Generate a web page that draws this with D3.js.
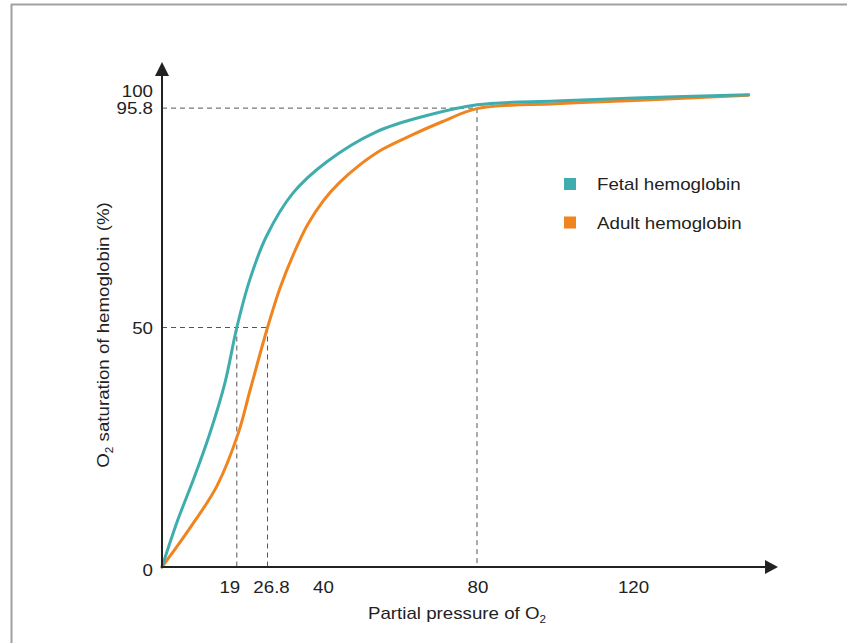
<!DOCTYPE html>
<html><head><meta charset="utf-8">
<script src="https://cdn.jsdelivr.net/npm/d3@7"></script>
<style>
html,body{margin:0;padding:0;background:#fff;}
svg{display:block;}
text{font-family:"Liberation Sans",Arial,Helvetica,sans-serif;fill:#222;}
</style></head>
<body>
<script>
// ---- data ----
const fetalP = [0, 4, 8, 12, 16, 19, 22.3, 26.5, 33.2, 41.7, 54.3, 67, 80, 100, 120, 149];
const fetalS = [0, 9.8, 18.3, 27.5, 38.5, 50, 60, 69, 78, 84.5, 90.8, 94.2, 96.5, 97.3, 97.9, 98.6];
const adultP = [0, 7, 14, 19.4, 22.4, 26.8, 30, 33.5, 37, 41, 45, 50, 56, 63, 71, 80, 100, 120, 149];
const adultS = [0, 8, 17, 28, 37, 50, 58.3, 65.5, 71.5, 76.5, 80.2, 83.8, 87.2, 90, 92.9, 95.7, 96.7, 97.4, 98.5];
const xTicks = [19, 26.8, 40, 80, 120];
const yTicks = [0, 50, 95.8, 100];
const seriesNames = ["Fetal hemoglobin", "Adult hemoglobin"];
const seriesColors = ["#3fadad", "#f0841f"];
const guides = [
  {x: 80, y: 95.8},
  {x: 26.8, y: 50},
  {x: 19, y: 50}
];

const W = 847, H = 643, SX = 1.17;
const svg = d3.select("body").append("svg").attr("width", W).attr("height", H);

function label(parent, px, py, anchor, size) {
  return parent.append("text")
    .attr("transform", `translate(${px},${py}) scale(${SX},1)`)
    .attr("text-anchor", anchor).attr("font-size", size);
}

// frame
svg.append("line").attr("x1", 11).attr("x2", W).attr("y1", 4.5).attr("y2", 4.5).attr("stroke", "#a0a0a0").attr("stroke-width", 2);
svg.append("line").attr("x1", 11.5).attr("x2", 11.5).attr("y1", 4).attr("y2", H).attr("stroke", "#a0a0a0").attr("stroke-width", 2);

const x = d3.scaleLinear().domain([0, 150]).range([162, 752.6]);
const y = d3.scaleLinear().domain([0, 100]).range([567, 88]);

// dashed guides
const g = svg.append("g").attr("stroke", "#555").attr("stroke-width", 1).attr("stroke-dasharray", "5,4").attr("fill", "none");
guides.forEach(d => {
  g.append("line").attr("x1", x(0)).attr("x2", x(d.x)).attr("y1", y(d.y)).attr("y2", y(d.y));
  g.append("line").attr("x1", x(d.x)).attr("x2", x(d.x)).attr("y1", y(d.y)).attr("y2", y(0));
});

// curves
const line = d3.line().x(d => x(d[0])).y(d => y(d[1])).curve(d3.curveCatmullRom.alpha(0.5));
const fetal = fetalP.map((p, i) => [p, fetalS[i]]);
const adult = adultP.map((p, i) => [p, adultS[i]]);
svg.append("path").datum(adult).attr("d", line).attr("fill", "none").attr("stroke", seriesColors[1]).attr("stroke-width", 3).attr("stroke-linecap", "round");
svg.append("path").datum(fetal).attr("d", line).attr("fill", "none").attr("stroke", seriesColors[0]).attr("stroke-width", 3).attr("stroke-linecap", "round");

// axes lines with arrows
const axCol = "#222";
svg.append("line").attr("x1", x(0)).attr("x2", 768).attr("y1", y(0)).attr("y2", y(0)).attr("stroke", axCol).attr("stroke-width", 2);
svg.append("path").attr("d", `M778,${y(0)} L765,${y(0) - 7} L765,${y(0) + 7} Z`).attr("fill", axCol);
svg.append("line").attr("x1", x(0)).attr("x2", x(0)).attr("y1", y(0) + 1).attr("y2", 72).attr("stroke", axCol).attr("stroke-width", 2);
svg.append("path").attr("d", `M${x(0)},62 L${x(0) - 7},76 L${x(0) + 7},76 Z`).attr("fill", axCol);

// x tick labels
const xOff = {19: -7, 26.8: 4, 40: 4, 80: 1, 120: -1};
const gx = svg.append("g");
xTicks.forEach(d => label(gx, x(d) + (xOff[d] || 0), 593, "middle", 16).text(d));

// y tick labels
const yOff = {0: 9, 50: 6, 95.8: 6, 100: 9};
const gy = svg.append("g");
yTicks.forEach(d => label(gy, 153, y(d) + (yOff[d] || 6), "end", 16).text(d));

// x title
const xt = label(svg, 457, 619, "middle", 16);
xt.append("tspan").text("Partial pressure of O");
xt.append("tspan").attr("font-size", 10).attr("dy", 4).text("2");

// y title
const yt = svg.append("text").attr("transform", `translate(109,335) rotate(-90) scale(${SX},1)`).attr("text-anchor", "middle").attr("font-size", 16);
yt.append("tspan").text("O");
yt.append("tspan").attr("font-size", 10).attr("dy", 4).text("2");
yt.append("tspan").attr("dy", -4).text(" saturation of hemoglobin (%)");

// legend
const lg = svg.append("g");
seriesNames.forEach((n, i) => {
  lg.append("rect").attr("x", 564).attr("y", 178 + i * 38.5).attr("width", 12).attr("height", 12).attr("fill", seriesColors[i]);
  label(lg, 597, 190 + i * 38.5, "start", 16).text(n);
});
</script>
</body></html>
